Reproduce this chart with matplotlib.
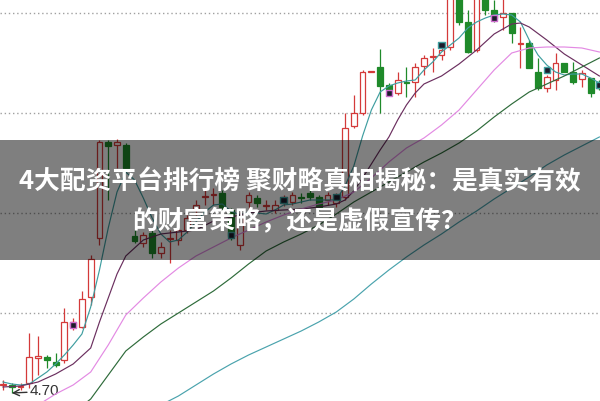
import numpy as np
import matplotlib.pyplot as plt
from matplotlib.patches import Rectangle

plt.rcParams['font.family'] = ['Noto Sans CJK SC', 'DejaVu Sans']

# === candle data (one row per session) ===
opens = [4.78, 4.78, 4.76, 4.80, 5.05, 5.06, 5.01, 5.03, 5.36, 5.36,
         5.66, 6.25, 7.21, 7.18, 7.18, 6.27, 6.20, 6.30, 6.10, 6.24,
         6.23, 6.33, 6.53, 6.66, 6.68, 6.70, 6.53, 6.18, 6.61, 6.65,
         6.57, 6.53, 6.60, 6.61, 6.66, 6.70, 6.66, 6.63, 6.60, 6.66,
         7.37, 7.50, 7.91, 7.96, 7.78, 7.70, 7.81, 7.81, 7.97, 8.06,
         8.08, 8.16, 8.68, 8.41, 8.13, 8.65, 8.53, 8.46, 8.50, 8.19,
         8.20, 7.91, 7.75, 7.83, 8.00, 7.91, 7.84, 7.85, 7.81]
highs = [4.83, 4.80, 4.80, 5.30, 5.27, 5.08, 5.10, 5.55, 5.45, 5.72,
         6.08, 7.23, 7.23, 7.24, 7.20, 6.33, 6.31, 6.33, 6.21, 6.33,
         6.36, 6.48, 6.63, 6.73, 6.75, 6.73, 6.55, 6.51, 6.71, 6.68,
         6.63, 6.63, 6.68, 6.71, 6.70, 6.73, 6.68, 6.71, 6.70, 7.50,
         7.68, 7.93, 7.92, 8.14, 7.80, 7.91, 7.96, 8.00, 8.08, 8.15,
         8.20, 8.83, 8.78, 8.53, 8.78, 8.73, 8.63, 8.65, 8.50, 8.36,
         8.23, 8.05, 7.88, 8.10, 8.00, 8.01, 7.93, 7.85, 7.83]
lows = [4.73, 4.70, 4.73, 4.75, 4.88, 4.95, 4.96, 5.00, 5.33, 5.35,
        5.58, 6.18, 6.63, 6.95, 6.93, 6.20, 6.16, 6.05, 6.05, 6.00,
        6.18, 6.30, 6.48, 6.58, 6.58, 6.53, 6.23, 6.13, 6.53, 6.56,
        6.53, 6.50, 6.57, 6.58, 6.60, 6.63, 6.53, 6.58, 6.56, 6.63,
        7.35, 7.48, 7.91, 7.50, 7.68, 7.68, 7.66, 7.66, 7.88, 7.91,
        8.03, 8.13, 8.38, 8.10, 8.11, 8.48, 8.41, 8.33, 8.20, 7.95,
        7.95, 7.73, 7.71, 7.73, 7.91, 7.79, 7.76, 7.66, 7.73]
closes = [4.79, 4.76, 4.77, 5.06, 5.07, 5.03, 4.98, 5.41, 5.41, 5.64,
          6.04, 7.21, 7.17, 7.21, 6.95, 6.22, 6.28, 6.10, 6.16, 6.25,
          6.33, 6.45, 6.58, 6.67, 6.69, 6.56, 6.27, 6.47, 6.68, 6.60,
          6.58, 6.58, 6.66, 6.68, 6.65, 6.66, 6.56, 6.68, 6.66, 7.35,
          7.50, 7.91, 7.92, 7.77, 7.73, 7.83, 7.80, 7.96, 8.05, 8.07,
          8.13, 8.73, 8.41, 8.11, 8.71, 8.53, 8.45, 8.50, 8.30, 8.20,
          7.95, 7.75, 7.86, 8.00, 7.91, 7.81, 7.90, 7.70, 7.75]

# === moving averages ===
ma5 = [4.81, 4.79, 4.78, 4.79, 4.85, 4.91, 4.99, 5.08, 5.18, 5.29,
       5.56, 5.93, 6.35, 6.71, 6.91, 6.83, 6.65, 6.45, 6.29, 6.21,
       6.23, 6.31, 6.41, 6.51, 6.58, 6.59, 6.52, 6.48, 6.51, 6.50,
       6.49, 6.53, 6.58, 6.59, 6.61, 6.63, 6.63, 6.63, 6.63, 6.77,
       6.97, 7.27, 7.53, 7.71, 7.77, 7.80, 7.82, 7.83, 7.93, 8.01,
       8.11, 8.18, 8.25, 8.35, 8.41, 8.45, 8.48, 8.49, 8.48, 8.41,
       8.23, 8.08, 7.98, 7.91, 7.88, 7.89, 7.89, 7.85, 7.80]

ma10_idx = [0, 2, 4, 6, 8, 10, 11, 12, 13, 14, 16, 18, 20, 22, 24, 26, 28, 30, 32, 34,
            36, 38, 39, 40, 41, 42, 43, 44, 45, 46, 47, 48, 50, 52, 54, 56, 58, 59, 60,
            62, 64, 66, 68]
ma10 = [4.76, 4.77, 4.81, 4.89, 4.99, 5.15, 5.41, 5.65, 5.89, 6.07, 6.23, 6.29, 6.31,
        6.33, 6.42, 6.46, 6.50, 6.52, 6.53, 6.54, 6.56, 6.59, 6.63, 6.72, 6.85, 6.99,
        7.13, 7.26, 7.43, 7.58, 7.70, 7.79, 7.87, 7.99, 8.13, 8.29, 8.39, 8.40, 8.36,
        8.23, 8.09, 7.98, 7.87]

ma20_idx = list(range(4, 69, 2))
ma20 = [4.58, 4.69, 4.78, 4.91, 5.18, 5.48, 5.65, 5.81, 5.95, 6.07, 6.16, 6.25, 6.33,
        6.41, 6.48, 6.54, 6.59, 6.63, 6.71, 6.85, 7.01, 7.15, 7.25, 7.38, 7.53, 7.73,
        7.93, 8.10, 8.15, 8.16, 8.16, 8.15, 8.11]

ma60_idx = [9] + list(range(10, 69, 2))
ma60 = [4.57, 4.64, 4.88, 5.12, 5.26, 5.39, 5.50, 5.61, 5.72, 5.85, 5.99, 6.12, 6.21,
        6.29, 6.38, 6.49, 6.61, 6.71, 6.81, 6.91, 7.01, 7.10, 7.20, 7.32, 7.46, 7.59,
        7.71, 7.79, 7.87, 7.96, 8.05]

ma120_idx = list(range(18, 69, 2))
ma120 = [4.58, 4.67, 4.78, 4.89, 4.99, 5.08, 5.16, 5.24, 5.32, 5.41, 5.51, 5.64, 5.79,
         5.93, 6.06, 6.18, 6.29, 6.41, 6.52, 6.64, 6.75, 6.86, 6.98, 7.08, 7.17, 7.26]

# signal markers (session, price)
sig_idx = [8, 26, 32, 38, 44, 50, 56, 62, 68]
sig_val = [5.38, 6.28, 6.63, 6.66, 7.70, 8.18, 8.45, 7.93, 7.78]
sig_edge = ['#d070d0', '#40a0a0', '#40a0a0', '#40a0a0', '#d070d0',
            '#40a0a0', '#d070d0', '#40a0a0', '#40a0a0']

grid_levels = [5.5, 6.5, 7.5, 8.5]
low_label = '4.70'
title_1 = '4大配资平台排行榜 聚财略真相揭秘：是真实有效'
title_2 = '的财富策略，还是虚假宣传？'

RED = '#d43a3a'
GREEN = '#1f8a2a'

fig = plt.figure(figsize=(6, 4.01), dpi=100)
ax = fig.add_axes([0, 0, 1, 1])
ax.set_xlim(-0.342, 68.07)
ax.set_ylim(4.62, 8.63)
ax.axis('off')

for g in grid_levels:
    ax.axhline(g, color='#a0a0a0', lw=1, ls=(0, (1, 2)), zorder=0)

# === candles ===
w = 0.66
for i, (o, h, l, c) in enumerate(zip(opens, highs, lows, closes)):
    up = c >= o
    col = RED if up else GREEN
    ax.vlines(i, l, h, color=col, lw=0.9, zorder=2)
    bot = min(o, c)
    hgt = max(abs(c - o), 0.004)
    ax.add_patch(Rectangle((i - w / 2, bot), w, hgt,
                           facecolor='white' if up else col,
                           edgecolor=col, lw=0.9, zorder=3))

# === moving averages ===
ax.plot(range(len(ma5)), ma5, color='#3f9ea0', lw=0.85, zorder=4)
ax.plot(ma10_idx, ma10, color='#6b2f5f', lw=0.85, zorder=4)
ax.plot(ma20_idx, ma20, color='#e38ae3', lw=0.85, zorder=4)
ax.plot(ma60_idx, ma60, color='#2e6b3a', lw=0.85, zorder=4)
ax.plot(ma120_idx, ma120, color='#4aa3ad', lw=0.85, zorder=4)

ax.scatter(sig_idx, sig_val, marker='s', s=22, c='#1c1c2c',
           edgecolors=sig_edge, linewidths=1, zorder=5)

# lowest point label
ax.annotate(low_label, xy=(1.0, 4.70), xytext=(3.05, 4.715),
            fontsize=11, color='#333333', family=['Liberation Sans', 'DejaVu Sans'],
            va='center', ha='left',
            arrowprops=dict(arrowstyle='->', color='#333333', lw=1,
                            shrinkA=0, shrinkB=0))

# === title banner ===
fig.add_artist(Rectangle((0, 141 / 401), 1, 120 / 401, transform=fig.transFigure,
                         facecolor='black', alpha=0.5, edgecolor='none', zorder=10))
fig.text(0.5, (401 - 182) / 401, title_1, ha='center', va='center',
         color='white', fontsize=18.5, fontweight='bold', zorder=11)
fig.text(0.5, (401 - 221) / 401, title_2, ha='center', va='center',
         color='white', fontsize=18.5, fontweight='bold', zorder=11)

plt.savefig('out.png', dpi=100)
